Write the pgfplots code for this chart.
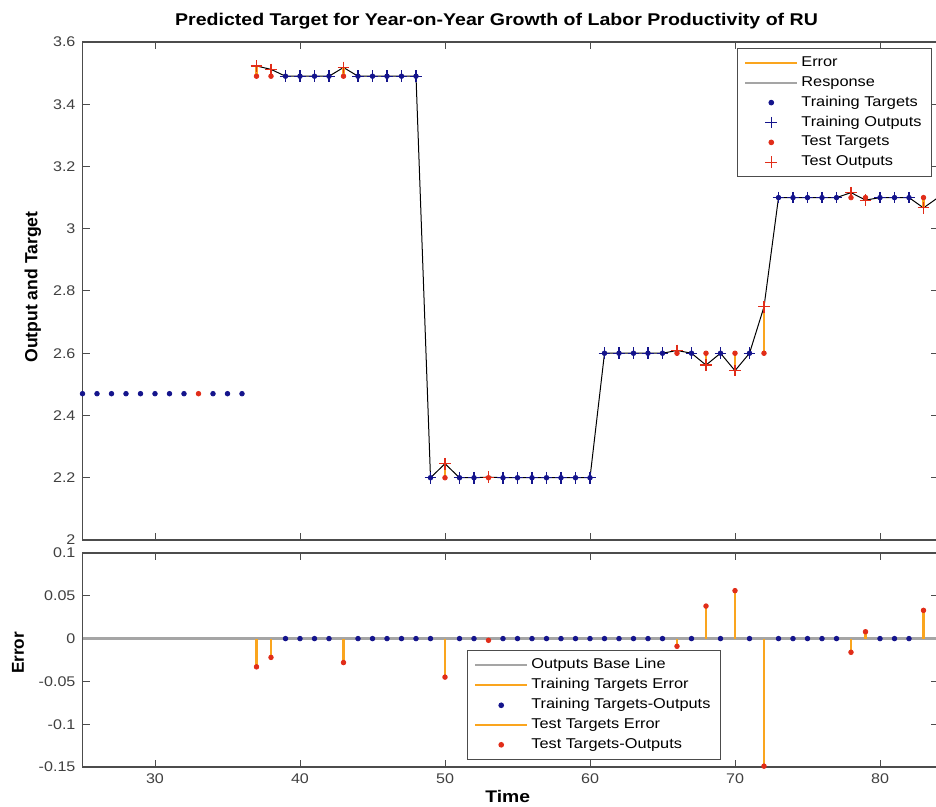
\documentclass[border=0pt]{standalone}
\usepackage{pgfplots}
\pgfplotsset{compat=1.18}
\usepackage{fontspec}
\setmainfont{Liberation Sans}[FakeStretch=1.15]
\newfontfamily\rotf{Liberation Sans}
\definecolor{navy}{RGB}{20,20,140}
\definecolor{tred}{RGB}{225,45,25}
\definecolor{eorange}{RGB}{250,165,30}
\definecolor{lgray}{RGB}{165,165,165}
\newcommand\ls{\rule[-1.5pt]{0pt}{6.5pt}}
\pgfplotsset{
  lineleg/.style={legend image code/.code={\draw[##1] (0pt,0pt) -- (26pt,0pt);}},
  markleg/.style={legend image code/.code={\path (0pt,0pt) (26pt,0pt);\draw[##1] plot coordinates {(13pt,0pt)};}},
  common/.style={
    scale only axis, width=427.75pt, xmin=25, xmax=84,
    xtick={30,40,50,60,70,80},
    axis line style={black!70, line width=0.6pt},
    tick style={black!70, line width=0.5pt},
    major tick length=3.5pt,
    ticklabel style={font=\fontsize{7}{8.5}\selectfont, text=black!75},
    /pgf/number format/assume math mode=true,
    legend cell align=left,
    legend style={draw=black!70, line width=0.5pt, fill=white,
      font=\fontsize{7.1}{8}\selectfont, row sep=0pt,
      inner xsep=3.5pt, inner ysep=2.4pt,
      nodes={inner xsep=1.5pt, inner ysep=1.67pt}},
  },
  dot/.style={only marks, mark=*, mark size=1.15pt},
  pls/.style={only marks, mark=+, mark size=2.9pt},
}
\begin{document}
\begin{tikzpicture}
\useasboundingbox (0,0) rectangle (468pt,403.5pt);
% ---------------- top axis ----------------
\begin{axis}[common,
  at={(41.25pt,133.5pt)}, anchor=south west, height=249pt,
  ymin=2, ymax=3.6,
  ytick={2,2.2,2.4,2.6,2.8,3,3.2,3.4,3.6},
  yticklabels={2,2.2,2.4,2.6,2.8,3,3.2,3.4,3.6},
  xticklabels={},
  title={Predicted Target for Year-on-Year Growth of Labor Productivity of RU},
  title style={at={(axis description cs:0.484,1)}, anchor=south, yshift=-3.1pt,
    font=\bfseries\fontsize{8.5}{10}\selectfont},
  ylabel={Output and Target},
  ylabel style={at={(axis description cs:-0.058,0.508)}, anchor=center,
    font=\rotf\bfseries\fontsize{8.8}{10}\selectfont},
  legend style={at={(0.993,0.988)}, anchor=north east},
]
\addlegendimage{lineleg, eorange, line width=1.1pt}
\addlegendentry{\ls Error}
\addlegendimage{lineleg, lgray, line width=1.1pt}
\addlegendentry{\ls Response}
\addlegendimage{markleg, navy, mark=*, mark size=1.15pt}
\addlegendentry{\ls Training Targets}
\addlegendimage{markleg, navy, mark=+, mark size=2.9pt, mark options={navy, line width=0.5pt}}
\addlegendentry{\ls Training Outputs}
\addlegendimage{markleg, tred, mark=*, mark size=1.15pt}
\addlegendentry{\ls Test Targets}
\addlegendimage{markleg, tred, mark=+, mark size=2.9pt, mark options={tred, line width=0.5pt}}
\addlegendentry{\ls Test Outputs}
% response line
\addplot[forget plot, black, line width=0.5pt] coordinates {
(37,3.523)(38,3.512)(39,3.49)(40,3.49)(41,3.49)(42,3.49)(43,3.518)(44,3.49)
(45,3.49)(46,3.49)(47,3.49)(48,3.49)(49,2.2)(50,2.245)(51,2.2)(52,2.2)
(53,2.202)(54,2.2)(55,2.2)(56,2.2)(57,2.2)(58,2.2)(59,2.2)(60,2.2)
(61,2.6)(62,2.6)(63,2.6)(64,2.6)(65,2.6)(66,2.609)(67,2.6)(68,2.562)
(69,2.6)(70,2.544)(71,2.6)(72,2.749)(73,3.1)(74,3.1)(75,3.1)(76,3.1)
(77,3.1)(78,3.116)(79,3.092)(80,3.1)(81,3.1)(82,3.1)(83,3.067)(84,3.1)};
% error lines at test points
\addplot[forget plot, eorange, line width=1.1pt, unbounded coords=jump] coordinates {
(37,3.49)(37,3.523)(37,nan)
(38,3.49)(38,3.512)(38,nan)
(43,3.49)(43,3.518)(43,nan)
(50,2.2)(50,2.245)(50,nan)
(53,2.2)(53,2.202)(53,nan)
(66,2.6)(66,2.609)(66,nan)
(68,2.6)(68,2.562)(68,nan)
(70,2.6)(70,2.544)(70,nan)
(72,2.6)(72,2.749)(72,nan)
(78,3.1)(78,3.116)(78,nan)
(79,3.1)(79,3.092)(79,nan)
(83,3.1)(83,3.067)};
% training targets
\addplot[forget plot, dot, navy] coordinates {
(25,2.47)(26,2.47)(27,2.47)(28,2.47)(29,2.47)(30,2.47)(31,2.47)(32,2.47)
(34,2.47)(35,2.47)(36,2.47)
(39,3.49)(40,3.49)(41,3.49)(42,3.49)(44,3.49)(45,3.49)(46,3.49)(47,3.49)(48,3.49)
(49,2.2)(51,2.2)(52,2.2)(54,2.2)(55,2.2)(56,2.2)(57,2.2)(58,2.2)(59,2.2)(60,2.2)
(61,2.6)(62,2.6)(63,2.6)(64,2.6)(65,2.6)(67,2.6)(69,2.6)(71,2.6)
(73,3.1)(74,3.1)(75,3.1)(76,3.1)(77,3.1)(80,3.1)(81,3.1)(82,3.1)};
% training outputs
\addplot[forget plot, pls, navy, mark options={navy, line width=0.55pt}] coordinates {
(39,3.49)(40,3.49)(41,3.49)(42,3.49)(44,3.49)(45,3.49)(46,3.49)(47,3.49)(48,3.49)
(49,2.2)(51,2.2)(52,2.2)(54,2.2)(55,2.2)(56,2.2)(57,2.2)(58,2.2)(59,2.2)(60,2.2)
(61,2.6)(62,2.6)(63,2.6)(64,2.6)(65,2.6)(67,2.6)(69,2.6)(71,2.6)
(73,3.1)(74,3.1)(75,3.1)(76,3.1)(77,3.1)(80,3.1)(81,3.1)(82,3.1)};
% test targets
\addplot[forget plot, dot, tred] coordinates {
(33,2.47)(37,3.49)(38,3.49)(43,3.49)(50,2.2)(53,2.2)(66,2.6)(68,2.6)(70,2.6)(72,2.6)
(78,3.1)(79,3.1)(83,3.1)};
% test outputs
\addplot[forget plot, pls, tred, mark options={tred, line width=0.6pt}] coordinates {
(37,3.523)(38,3.512)(43,3.518)(50,2.245)(53,2.202)(66,2.609)(68,2.562)(70,2.544)
(72,2.749)(78,3.116)(79,3.092)(83,3.067)};
\end{axis}
% ---------------- bottom axis ----------------
\begin{axis}[common,
  at={(41.25pt,20pt)}, anchor=south west, height=107pt,
  ymin=-0.15, ymax=0.1,
  ytick={-0.15,-0.1,-0.05,0,0.05,0.1},
  yticklabels={-0.15,-0.1,-0.05,0,0.05,0.1},
  xticklabels={30,40,50,60,70,80},
  xlabel={Time},
  xlabel style={at={(axis description cs:0.497,-0.14)}, anchor=center,
    font=\bfseries\fontsize{8.4}{10}\selectfont},
  ylabel={Error},
  ylabel style={at={(axis description cs:-0.0754,0.533)}, anchor=center,
    font=\rotf\bfseries\fontsize{8.6}{10}\selectfont},
  legend style={at={(0.449,0.033)}, anchor=south west},
]
\addlegendimage{lineleg, lgray, line width=1.1pt}
\addlegendentry{\ls Outputs Base Line}
\addlegendimage{lineleg, eorange, line width=1.1pt}
\addlegendentry{\ls Training Targets Error}
\addlegendimage{markleg, navy, mark=*, mark size=1.15pt}
\addlegendentry{\ls Training Targets-Outputs}
\addlegendimage{lineleg, eorange, line width=1.1pt}
\addlegendentry{\ls Test Targets Error}
\addlegendimage{markleg, tred, mark=*, mark size=1.15pt}
\addlegendentry{\ls Test Targets-Outputs}
% base line
\addplot[forget plot, lgray, line width=1.2pt] coordinates {(25,0)(84,0)};
% test error stems
\addplot[forget plot, ycomb, eorange, line width=1.1pt] coordinates {
(37,-0.033)(38,-0.022)(43,-0.028)(50,-0.045)(53,-0.002)(66,-0.009)(68,0.038)
(70,0.056)(72,-0.149)(78,-0.016)(79,0.008)(83,0.033)};
% training errors
\addplot[forget plot, dot, navy] coordinates {
(39,0)(40,0)(41,0)(42,0)(44,0)(45,0)(46,0)(47,0)(48,0)(49,0)(51,0)(52,0)
(54,0)(55,0)(56,0)(57,0)(58,0)(59,0)(60,0)(61,0)(62,0)(63,0)(64,0)(65,0)
(67,0)(69,0)(71,0)(73,0)(74,0)(75,0)(76,0)(77,0)(80,0)(81,0)(82,0)};
% test errors
\addplot[forget plot, dot, tred] coordinates {
(37,-0.033)(38,-0.022)(43,-0.028)(50,-0.045)(53,-0.002)(66,-0.009)(68,0.038)
(70,0.056)(72,-0.149)(78,-0.016)(79,0.008)(83,0.033)};
\end{axis}
\end{tikzpicture}
\end{document}
